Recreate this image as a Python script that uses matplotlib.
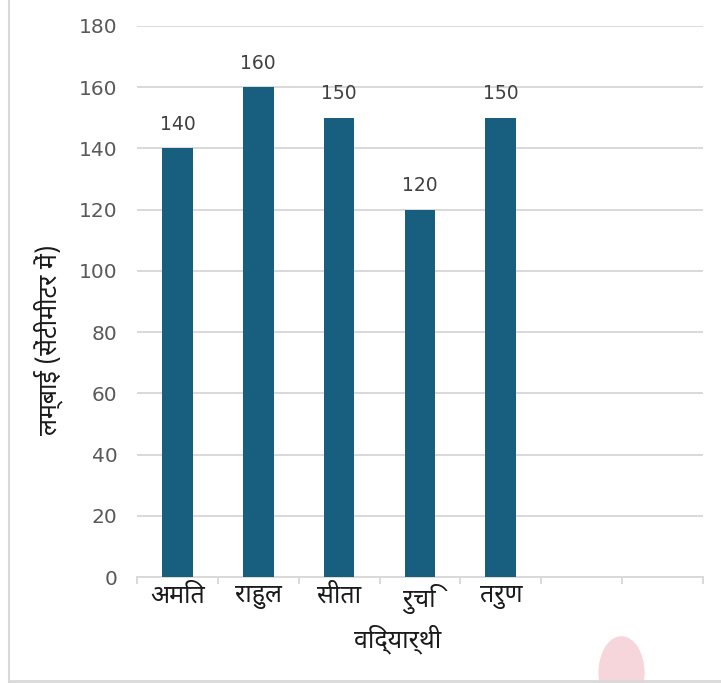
import matplotlib
matplotlib.use("Agg")
import matplotlib.pyplot as plt
from matplotlib.lines import Line2D
from matplotlib.patches import Ellipse

# data
students = ["अमित", "राहुल", "सीता", "रुचि", "तरुण"]
heights = [140, 160, 150, 120, 150]
n_slots = 7          # the chart keeps two empty category slots on the right
y_ticks = [0, 20, 40, 60, 80, 100, 120, 140, 160, 180]
x_title = "विद्यार्थी"
y_title = "लम्बाई (सेंटीमीटर में)"

HINDI = ["Noto Sans Devanagari", "Hind", "Mukta", "DejaVu Sans"]
BAR = "#175E7F"
GRID = "#D9D9D9"

fig = plt.figure(figsize=(7.21, 6.83), dpi=100)
ax = fig.add_axes([0.190, 0.155, 0.785, 0.807])

x = list(range(len(students)))
bars = ax.bar(x, heights, width=0.38, color=BAR, zorder=3)
for b, h in zip(bars, heights):
    ax.annotate(str(h), (b.get_x() + b.get_width() / 2, h), xytext=(0, 10.5),
                textcoords="offset points", ha="center", va="bottom",
                family="DejaVu Sans", fontsize=13.5, color="#404040")

ax.set_xlim(-0.5, n_slots - 0.5)
ax.set_ylim(0, 180)
ax.set_yticks(y_ticks)
ax.set_yticklabels([str(v) for v in y_ticks], family="DejaVu Sans")
ax.yaxis.grid(True, color=GRID, lw=1.4, zorder=0)
ax.tick_params(axis="y", length=0, pad=14, labelsize=14.5, labelcolor="#595959")

# category labels at centres, tick marks on slot boundaries
ax.set_xticks(x)
ax.set_xticklabels(students, family=HINDI, fontsize=18, color="#1a1a1a")
ax.tick_params(axis="x", which="major", length=0, pad=5)
ax.set_xticks([i - 0.5 for i in range(n_slots + 1)], minor=True)
ax.tick_params(axis="x", which="minor", length=5, color=GRID, width=1.4)

for s in ("top", "right", "left"):
    ax.spines[s].set_visible(False)
ax.spines["bottom"].set_color(GRID)
ax.spines["bottom"].set_linewidth(1.4)

ax.set_xlabel(x_title, family=HINDI, fontsize=18, color="#1a1a1a")
ax.xaxis.set_label_coords(0.46, -0.085)
ax.set_ylabel(y_title, family=HINDI, fontsize=18, color="#1a1a1a")
ax.yaxis.set_label_coords(-0.13, 0.43)

# outer frame of the screenshot and the faint watermark blob
fig.add_artist(Line2D([0.012, 0.012], [0.0, 1.0], color="#D9D9D9", lw=1.5))
fig.add_artist(Line2D([0.012, 1.0], [0.003, 0.003], color="#D9D9D9", lw=2))
fig.add_artist(Ellipse((0.862, 0.015), 0.062, 0.105, color="#F7D6DB", zorder=0))

fig.savefig("out.png", dpi=100)
